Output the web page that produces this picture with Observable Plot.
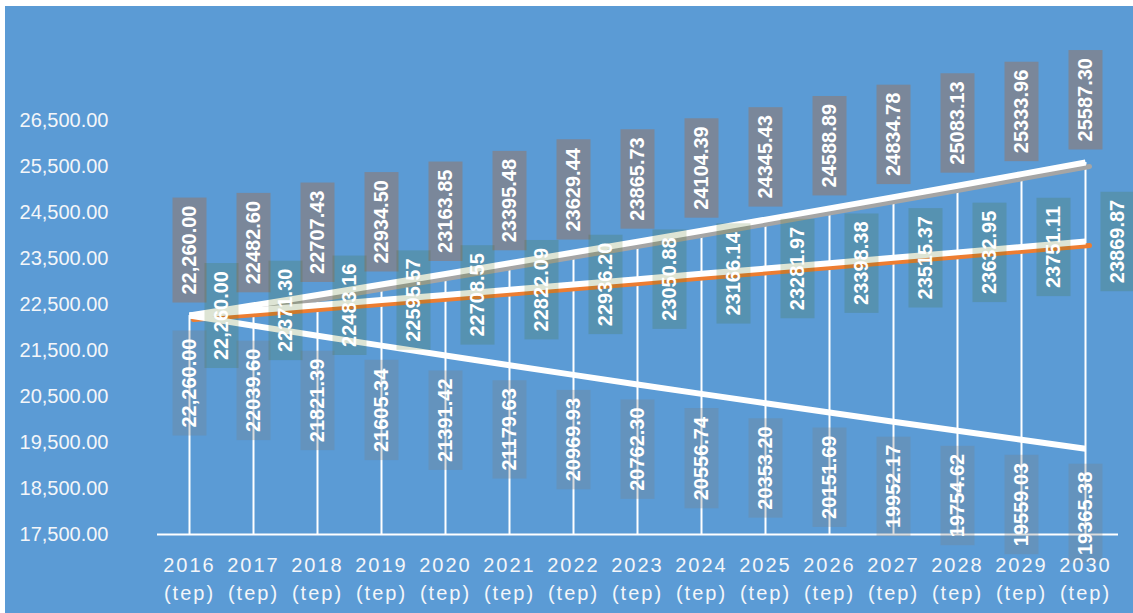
<!DOCTYPE html>
<html>
<head>
<meta charset="utf-8">
<script src="https://cdn.jsdelivr.net/npm/d3@7"></script>
<script src="https://cdn.jsdelivr.net/npm/@observablehq/plot@0.6"></script>
<style>
  html, body { margin: 0; padding: 0; background: #ffffff; overflow: hidden; }
  #chart { width: 1133px; height: 613px; }
</style>
</head>
<body>
<div id="chart"></div>
<script>
// ---- data ----
const years = [2016, 2017, 2018, 2019, 2020, 2021, 2022, 2023, 2024, 2025, 2026, 2027, 2028, 2029, 2030];
const unitLabel = "(tep)";
const high = [22260.00, 22482.60, 22707.43, 22934.50, 23163.85, 23395.48, 23629.44, 23865.73, 24104.39, 24345.43, 24588.89, 24834.78, 25083.13, 25333.96, 25587.30];
const mid  = [22260.00, 22371.30, 22483.16, 22595.57, 22708.55, 22822.09, 22936.20, 23050.88, 23166.14, 23281.97, 23398.38, 23515.37, 23632.95, 23751.11, 23869.87];
const low  = [22260.00, 22039.60, 21821.39, 21605.34, 21391.42, 21179.63, 20969.93, 20762.30, 20556.74, 20353.20, 20151.69, 19952.17, 19754.62, 19559.03, 19365.38];
const yTicks = [17500, 18500, 19500, 20500, 21500, 22500, 23500, 24500, 25500, 26500];

// ---- helpers ----
const fmtFirst = d3.format(",.2f");
const fmtRest = d3.format(".2f");
const lab = (v, i) => (i === 0 ? fmtFirst(v) : fmtRest(v));
const rows = years.map((year, i) => ({ year, i, high: high[i], mid: mid[i], low: low[i] }));

const font = "'Liberation Sans', Arial, Helvetica, sans-serif";
const labelStyle = { fill: "white", fontWeight: "bold", fontSize: 20, fontFamily: font, rotate: -90 };

const chart = Plot.plot({
  width: 1133,
  height: 613,
  marginLeft: 157,
  marginRight: 15,
  marginTop: 0,
  marginBottom: 79,
  style: { fontFamily: font },
  x: { type: "point", domain: years, range: [188, 1085], padding: 0, label: null },
  y: { domain: [yTicks[0], yTicks[yTicks.length - 1]], range: [534, 120], label: null },
  marks: [
    // drop lines and baseline
    Plot.ruleX(rows, { x: "year", y1: yTicks[0], y2: "high", stroke: "white", strokeWidth: 2 }),
    Plot.ruleY([yTicks[0]], { stroke: "white", strokeWidth: 2 }),
    // coloured shadow lines
    Plot.line(rows, { x: "year", y: "high", stroke: "#a5a5a5", strokeWidth: 5, dx: 4, dy: 4, strokeLinecap: "round" }),
    Plot.line(rows, { x: "year", y: "mid", stroke: "#ed7d31", strokeWidth: 5, dx: 4, dy: 4, strokeLinecap: "round" }),
    // white lines
    Plot.line(rows, { x: "year", y: "high", stroke: "white", strokeWidth: 6, strokeLinecap: "butt" }),
    Plot.line(rows, { x: "year", y: "mid", stroke: "white", strokeWidth: 6, strokeLinecap: "butt" }),
    Plot.line(rows, { x: "year", y: "low", stroke: "white", strokeWidth: 6, strokeLinecap: "butt" }),
    // data labels
    Plot.text(rows, { x: "year", y: "low", text: d => lab(d.low, d.i), textAnchor: "end", dy: 23, ...labelStyle }),
    Plot.text(rows, { x: "year", y: "high", text: d => lab(d.high, d.i), textAnchor: "start", dy: -21, ...labelStyle }),
    Plot.text(rows, { x: "year", y: "mid", text: d => lab(d.mid, d.i), textAnchor: "middle", dx: 32, ...labelStyle }),
    // axes
    Plot.axisY({ ticks: yTicks, tickSize: 0, tickPadding: 49, tickFormat: ",.2f", fontSize: 20, color: "#f4f6f9", label: null }),
    Plot.axisX({ ticks: years, tickSize: 0, tickPadding: 18, tickFormat: d => `${d}\n${unitLabel}`, fontSize: 20, lineHeight: 1.4, color: "#f4f6f9", label: null })
  ]
});

chart.style.background =
  "linear-gradient(#fff,#fff) 0 0/100% 6px no-repeat, linear-gradient(#fff,#fff) 0 0/5px 100% no-repeat, #5b9bd5";
chart.style.overflow = "hidden";
document.getElementById("chart").appendChild(chart);

// letter spacing for x tick labels
chart.querySelectorAll('g[aria-label="x-axis tick label"] text').forEach(t => t.setAttribute("letter-spacing", "2px"));

// label boxes behind the rotated data labels
const boxStyles = [
  { fill: "#7f7f7f", opacity: 0.27 },      // low
  { fill: "#7a879a", opacity: 1 },         // high
  { fill: "rgb(67,108,14)", opacity: 0.18 } // mid
];
const groups = chart.querySelectorAll('g[aria-label="text"]');
groups.forEach((g, gi) => {
  const st = boxStyles[gi];
  if (!st) return;
  g.querySelectorAll("text").forEach(t => {
    const bb = t.getBBox();
    const pad = 8;
    const r = document.createElementNS("http://www.w3.org/2000/svg", "rect");
    r.setAttribute("x", bb.x - pad);
    r.setAttribute("width", bb.width + 2 * pad);
    r.setAttribute("y", -17);
    r.setAttribute("height", 34);
    const tr = t.getAttribute("transform");
    if (tr) r.setAttribute("transform", tr);
    r.setAttribute("fill", st.fill);
    r.setAttribute("fill-opacity", st.opacity);
    r.setAttribute("stroke", "none");
    g.insertBefore(r, t);
  });
});
</script>
</body>
</html>
